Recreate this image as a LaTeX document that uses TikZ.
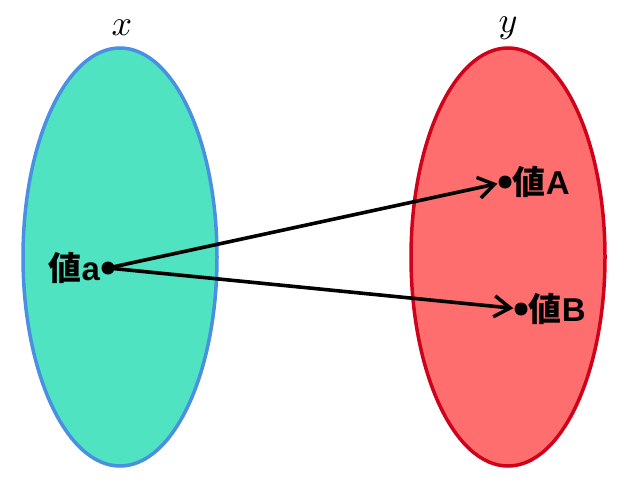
\documentclass[tikz,border=0pt]{standalone}
\usepackage{fontspec}
\newfontfamily\jpfont{Noto Sans CJK JP}
\newfontfamily\lafont{Liberation Sans}
\usetikzlibrary{arrows.meta, positioning, shapes.geometric}
\definecolor{setx}{RGB}{80,227,194}
\definecolor{setxb}{RGB}{74,144,226}
\definecolor{sety}{RGB}{255,110,110}
\definecolor{setyb}{RGB}{208,2,27}
\tikzset{
  % 集合の楕円
  setx/.style={ellipse, draw=setxb, line width=3.5pt, fill=setx,
               minimum width=194pt, minimum height=418pt},
  sety/.style={ellipse, draw=setyb, line width=3.5pt, fill=sety,
               minimum width=194pt, minimum height=418pt},
  pt/.style={circle, fill=black, inner sep=0pt, minimum size=13pt},
  val/.style={font=\lafont\bfseries\fontsize{33}{36}\selectfont, inner sep=1pt},
  var/.style={scale=3.6},
  ar/.style={-{Straight Barb[length=16pt,width=21pt,line width=3.5pt]}, line width=3.6pt, shorten >=1pt}
}
\begin{document}
\begin{tikzpicture}[x=1pt, y=-1pt]
    \useasboundingbox (0,0) rectangle (636,490);
    \node[setx] (X) at (120,257) {};
    \node[sety] (Y) at (508,257) {};
    \node[var] (xl) at (122,28) {$x$};
    \node[var] (yl) at (508,28) {$y$};

    \node[pt] (a) at (108,268) {};
    \node[pt] (A) at (505,182) {};
    \node[pt] (B) at (521,309) {};
    \node[val, left=0pt of a]  (la) {{\jpfont 値}a};
    \node[val, right=0pt of A] (lA) {{\jpfont 値}A};
    \node[val, right=0pt of B] (lB) {{\jpfont 値}B};

    \draw[ar] (a.center) -- (A);
    \draw[ar] (a.center) -- (B);
  \end{tikzpicture}
\end{document}
